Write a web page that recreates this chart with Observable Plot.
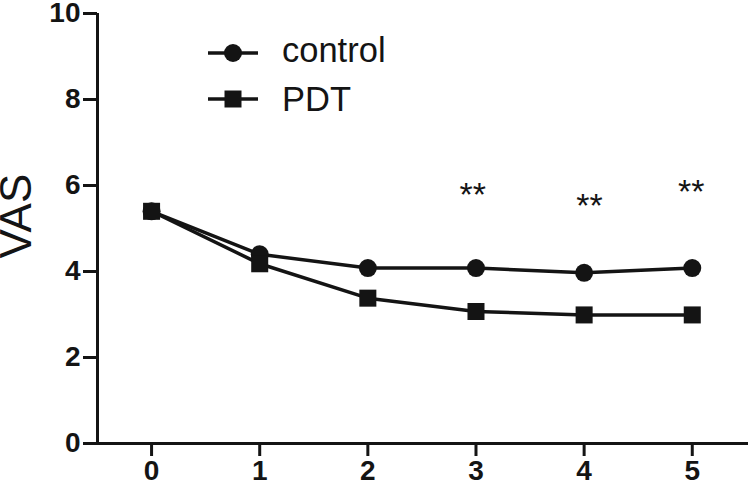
<!DOCTYPE html>
<html>
<head>
<meta charset="utf-8">
<script src="https://cdn.jsdelivr.net/npm/d3@7"></script>
<script src="https://cdn.jsdelivr.net/npm/@observablehq/plot@0.6"></script>
<style>
  html, body { margin: 0; padding: 0; background: #fff; }
  #chart svg { display: block; }
</style>
</head>
<body>
<div id="chart"></div>
<script>
// ---- data ----
const timepoints = [0, 1, 2, 3, 4, 5];
const controlVAS = [5.4, 4.4, 4.08, 4.08, 3.97, 4.08];
const pdtVAS = [5.4, 4.18, 3.38, 3.07, 2.99, 2.99];
const seriesNames = ["control", "PDT"];
const seriesSymbols = ["circle", "square"];
const sigX = [2.97, 4.05, 4.99];
const sigY = [5.96, 5.71, 6.03];
const sigLabels = ["**", "**", "**"];
const yTicks = [0, 2, 4, 6, 8, 10];
const xTicks = [0, 1, 2, 3, 4, 5];
const yLabel = "VAS";

const ink = "#141414";
const font = "'Liberation Sans', Arial, Helvetica, sans-serif";

const rows = timepoints.flatMap((t, i) => [
  {t, v: controlVAS[i], s: seriesNames[0]},
  {t, v: pdtVAS[i], s: seriesNames[1]}
]);
const ctrlRows = rows.filter(d => d.s === seriesNames[0]);
const pdtRows = rows.filter(d => d.s === seriesNames[1]);
const sigRows = sigX.map((x, i) => ({x, y: sigY[i], label: sigLabels[i]}));

const xDomain = [-0.5, 5.52];
const yDomain = [0, 10];

function legendMark() {
  const g = d3.create("svg:g");
  seriesNames.forEach((name, i) => {
    const cy = 53 + i * 46;
    g.append("line")
      .attr("x1", 208).attr("x2", 258).attr("y1", cy).attr("y2", cy)
      .attr("stroke", ink).attr("stroke-width", 3.5);
    const sym = seriesSymbols[i] === "circle" ? d3.symbolCircle : d3.symbolSquare;
    const size = seriesSymbols[i] === "circle" ? Math.PI * 81 : 17 * 17;
    g.append("path")
      .attr("d", d3.symbol(sym, size)())
      .attr("transform", `translate(233,${cy})`)
      .attr("fill", ink);
    g.append("text")
      .attr("x", 282).attr("y", cy + (i === 0 ? 9 : 12))
      .attr("text-anchor", "start")
      .attr("font-size", 34.5).attr("font-family", font)
      .attr("fill", ink)
      .text(name);
  });
  return g.node();
}

const chart = Plot.plot({
  width: 750,
  height: 489,
  marginLeft: 97,
  marginRight: 2,
  marginTop: 13,
  marginBottom: 46,
  style: {fontFamily: font, background: "#fff", color: ink},
  x: {domain: xDomain, axis: null},
  y: {domain: yDomain, axis: null},
  marks: [
    Plot.axisY({ticks: yTicks, tickFormat: d => String(d), tickSize: 14, tickPadding: 3, fontSize: 28, fontWeight: "bold", strokeWidth: 3, label: null}),
    Plot.axisX({ticks: xTicks, tickFormat: d => String(d), tickSize: 13, tickPadding: 4, fontSize: 28, fontWeight: "bold", strokeWidth: 3, label: null}),
    Plot.ruleX([xDomain[0]], {stroke: ink, strokeWidth: 3}),
    Plot.ruleY([yDomain[0]], {stroke: ink, strokeWidth: 3}),
    Plot.text([yLabel], {frameAnchor: "left", dx: -81, dy: 30, rotate: -90, fontSize: 44, fill: ink}),
    Plot.line(rows, {x: "t", y: "v", z: "s", stroke: ink, strokeWidth: 3.5}),
    Plot.dot(ctrlRows, {x: "t", y: "v", r: 9, symbol: "circle", fill: ink, stroke: "none"}),
    Plot.dot(pdtRows, {x: "t", y: "v", r: 9.6, symbol: "square", fill: ink, stroke: "none"}),
    Plot.text(sigRows, {x: "x", y: "y", text: "label", fontSize: 34, dy: 8, fill: ink}),
    legendMark
  ]
});

document.getElementById("chart").appendChild(chart);
</script>
</body>
</html>
